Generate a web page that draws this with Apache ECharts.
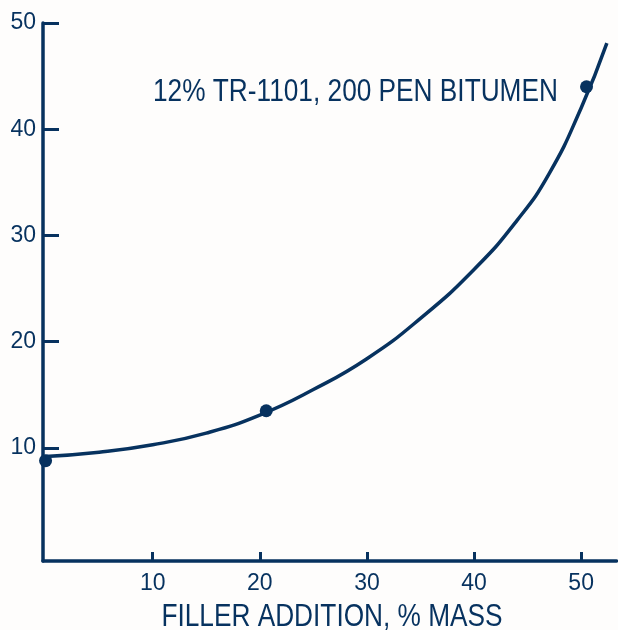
<!DOCTYPE html>
<html>
<head>
<meta charset="utf-8">
<script src="https://cdn.jsdelivr.net/npm/echarts@6/dist/echarts.min.js"></script>
<style>
html,body{margin:0;padding:0;background:#fefdfc;}
#chart{width:618px;height:630px;}
</style>
</head>
<body>
<div id="chart"></div>
<script>
// Measured points
const pointX = [0, 20.6, 50.5];
const pointY = [8.8, 13.5, 44.0];
// Fitted curve
const curveX = [0, 5, 10, 15, 20, 25, 30, 35, 40, 44, 47, 50, 52.4];
const curveY = [9.2, 9.6, 10.3, 11.4, 13.1, 15.5, 18.4, 22.2, 26.8, 31.4, 35.8, 42.0, 48.1];
// Tick labels
const xTicks = [10, 20, 30, 40, 50];
const yTicks = [10, 20, 30, 40, 50];
const xTitle = 'FILLER ADDITION, % MASS';
const annotation = '12% TR-1101, 200 PEN BITUMEN';

const ink = '#07325f';
const font = "'Liberation Sans', Arial, sans-serif";

const chart = echarts.init(document.getElementById('chart'), null, {renderer: 'canvas'});
chart.setOption({
  backgroundColor: '#fefdfc',
  animation: false,
  grid: {left: 43, right: 1.5, top: 23, bottom: 69, containLabel: false, outerBoundsMode: 'none'},
  xAxis: {
    type: 'value',
    min: -0.24, max: 53.3,
    splitLine: {show: false},
    axisLine: {show: true, onZero: false, lineStyle: {color: ink, width: 3.5}},
    axisTick: {show: true, inside: true, length: 9, customValues: xTicks, lineStyle: {color: ink, width: 3}},
    axisLabel: {customValues: xTicks, color: ink, fontFamily: font, fontSize: 23, margin: 11}
  },
  yAxis: {
    type: 'value',
    min: -0.64, max: 50,
    splitLine: {show: false},
    axisLine: {show: true, onZero: false, lineStyle: {color: ink, width: 3.5}},
    axisTick: {show: true, inside: true, length: 16, customValues: yTicks, lineStyle: {color: ink, width: 3}},
    axisLabel: {customValues: yTicks, color: ink, fontFamily: font, fontSize: 23, margin: 7}
  },
  graphic: [{
    type: 'text',
    x: 153,
    y: 92,
    scaleX: 0.82,
    style: {text: annotation, fill: ink, font: "32px 'Liberation Sans', Arial, sans-serif", textAlign: 'left', textVerticalAlign: 'middle'}
  }, {
    type: 'text',
    x: 332,
    y: 617,
    scaleX: 0.82,
    style: {text: xTitle, fill: ink, font: "32px 'Liberation Sans', Arial, sans-serif", textAlign: 'center', textVerticalAlign: 'middle'}
  }],
  series: [
    {
      type: 'line',
      data: curveX.map((x, i) => [x, curveY[i]]),
      smooth: 0.5,
      showSymbol: false,
      clip: false,
      lineStyle: {color: ink, width: 3.5}
    },
    {
      type: 'scatter',
      data: pointX.map((x, i) => [x, pointY[i]]),
      symbol: 'circle',
      symbolSize: 13,
      clip: false,
      itemStyle: {color: ink, opacity: 1}
    }
  ]
});
</script>
</body>
</html>
